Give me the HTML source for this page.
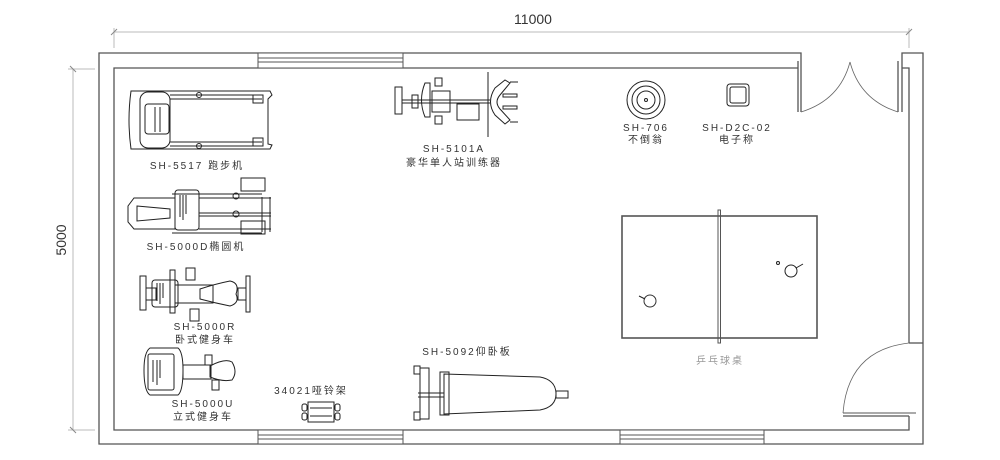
<!DOCTYPE html>
<html><head><meta charset="utf-8"><style>
html,body{margin:0;padding:0;background:#fff;width:1000px;height:460px;overflow:hidden}
svg{display:block}
text{font-family:"Liberation Sans","Noto Sans CJK SC",sans-serif;fill:#333}
.l{font-size:10px;letter-spacing:2px}
</style></head><body>
<svg width="1000" height="460" viewBox="0 0 1000 460" xmlns="http://www.w3.org/2000/svg">
<g fill="none" stroke="#bbb" stroke-width="1">
 <line x1="114" y1="32" x2="909" y2="32"/>
 <line x1="114" y1="28" x2="114" y2="48"/>
 <line x1="909" y1="28" x2="909" y2="48"/>
 <line x1="111" y1="35" x2="117" y2="29" stroke="#888"/>
 <line x1="906" y1="35" x2="912" y2="29" stroke="#888"/>
 <line x1="73" y1="69" x2="73" y2="430"/>
 <line x1="68" y1="69" x2="95" y2="69"/>
 <line x1="68" y1="430" x2="95" y2="430"/>
 <line x1="70" y1="66" x2="76" y2="72" stroke="#888"/>
 <line x1="70" y1="427" x2="76" y2="433" stroke="#888"/>
</g>
<text x="533" y="24" font-size="14" text-anchor="middle" style="fill:#333">11000</text>
<text x="66" y="240" font-size="14" text-anchor="middle" transform="rotate(-90 66 240)">5000</text>

<g fill="none" stroke="#555" stroke-width="1.3">
 <!-- outer walls -->
 <polyline points="801,61 801,53 99,53 99,444 923,444 923,53 902,53 902,61"/>
 <!-- inner walls -->
 <polyline points="798,68 114,68 114,430 909,430 909,416"/>
 <polyline points="909,343 909,68 902,68"/>
 <line x1="798" y1="61" x2="798" y2="112"/>
 <line x1="801" y1="61" x2="801" y2="112"/>
 <line x1="898" y1="61" x2="898" y2="112"/>
 <line x1="902" y1="61" x2="902" y2="112"/>
 <line x1="909" y1="343" x2="923" y2="343"/>
 <line x1="843" y1="416" x2="909" y2="416"/>
 <line x1="843" y1="413" x2="916" y2="413" stroke-width="1"/>
</g>
<!-- windows -->
<g fill="#fff" stroke="#555" stroke-width="1">
 <rect x="258" y="53" width="145" height="15"/>
 <line x1="258" y1="58" x2="403" y2="58"/><line x1="258" y1="62" x2="403" y2="62"/>
 <rect x="258" y="430" width="145" height="14"/>
 <line x1="258" y1="435" x2="403" y2="435"/><line x1="258" y1="439" x2="403" y2="439"/>
 <rect x="620" y="430" width="144" height="14"/>
 <line x1="620" y1="435" x2="764" y2="435"/><line x1="620" y1="439" x2="764" y2="439"/>
</g>
<!-- doors -->
<g fill="none" stroke="#666" stroke-width="0.8">
 <path d="M801,112 Q840,100 850,62"/>
 <path d="M898,112 Q860,100 850,62"/>
 <path d="M843,413 Q848,350 909,343"/>
</g>

<g fill="none" stroke="#222" stroke-width="1">
 <!-- treadmill -->
 <path d="M131,91 L270,91 L272,95 L268,99 L268,144 L272,145 L270,149 L131,149 Q127,120 131,91 Z"/>
 <rect x="140" y="92" width="30" height="56" rx="8"/>
 <rect x="145" y="104" width="24" height="30" rx="3"/>
 <line x1="170" y1="99" x2="262" y2="99"/><line x1="170" y1="142" x2="262" y2="142"/>
 <line x1="170" y1="95" x2="262" y2="95"/><line x1="170" y1="146" x2="262" y2="146"/>
 <rect x="253" y="95" width="10" height="8"/><rect x="253" y="138" width="10" height="8"/>
 <circle cx="199" cy="95" r="2.5"/><circle cx="199" cy="146" r="2.5"/>
 <line x1="155" y1="107" x2="155" y2="132"/><line x1="160" y1="107" x2="160" y2="132"/>
 <!-- elliptical -->
 <path d="M175,198 L134,198 L128,206 L128,222 L134,229 L175,229 Z"/>
 <path d="M137,206 L170,209 L170,218 L137,221 Z"/>
 <rect x="175" y="190" width="24" height="40" rx="3"/>
 <line x1="180" y1="195" x2="180" y2="217"/><line x1="183" y1="195" x2="183" y2="220"/><line x1="186" y1="195" x2="186" y2="214"/>
 <line x1="199" y1="198" x2="271" y2="198"/><line x1="199" y1="229" x2="271" y2="229"/>
 <line x1="199" y1="213" x2="271" y2="213"/><line x1="199" y1="216" x2="271" y2="216"/>
 <line x1="172" y1="194" x2="262" y2="194"/><line x1="172" y1="233" x2="262" y2="233"/>
 <rect x="241" y="178" width="24" height="13"/><rect x="241" y="221" width="24" height="13"/>
 <circle cx="236" cy="196" r="3"/><circle cx="236" cy="214" r="3"/>
 <line x1="262" y1="197" x2="262" y2="232"/><line x1="270" y1="197" x2="270" y2="232"/>
 <!-- recumbent -->
 <rect x="140" y="276" width="6" height="34"/><rect x="146" y="288" width="10" height="12"/>
 <rect x="152" y="280" width="26" height="27" rx="3"/>
 <line x1="157" y1="283" x2="157" y2="301"/><line x1="160" y1="283" x2="160" y2="304"/><line x1="163" y1="283" x2="163" y2="298"/>
 <rect x="170" y="270" width="5" height="43"/>
 <rect x="175" y="285" width="38" height="18"/>
 <rect x="186" y="268" width="9" height="12"/><rect x="190" y="309" width="9" height="12"/>
 <path d="M200,289 Q215,284 230,281 Q240,283 236,294 Q240,303 230,306 Q215,303 200,299 Z"/>
 <rect x="238" y="288" width="8" height="12"/><rect x="246" y="276" width="4" height="36"/>
 <!-- upright -->
 <path d="M150,348 L178,348 Q183,352 183,370 Q183,391 178,395 L150,395 Q144,391 144,370 Q144,352 150,348 Z"/>
 <rect x="148" y="354" width="26" height="36" rx="2"/>
 <line x1="153" y1="360" x2="153" y2="382"/><line x1="157" y1="360" x2="157" y2="385"/><line x1="160" y1="360" x2="160" y2="378"/>
 <rect x="183" y="365" width="28" height="14"/>
 <rect x="205" y="355" width="7" height="10"/><rect x="212" y="380" width="7" height="10"/>
 <path d="M210,366 Q225,358 232,362 Q238,372 232,380 Q222,382 210,377 Z"/>
 <!-- dumbbell rack -->
 <rect x="308" y="402" width="26" height="20"/>
 <line x1="310" y1="408" x2="332" y2="408"/><line x1="310" y1="416" x2="332" y2="416"/>
 <rect x="302" y="404" width="5" height="7" rx="2"/><rect x="302" y="413" width="5" height="7" rx="2"/>
 <rect x="335" y="404" width="5" height="7" rx="2"/><rect x="335" y="413" width="5" height="7" rx="2"/>
 <!-- bench -->
 <path d="M444,374 L540,377 Q556,380 556,394 Q556,407 540,410 L444,414 Z"/>
 <rect x="440" y="372" width="9" height="43"/>
 <rect x="420" y="368" width="9" height="51"/>
 <rect x="414" y="366" width="6" height="8"/><rect x="414" y="412" width="6" height="8"/>
 <line x1="418" y1="393" x2="444" y2="393"/><line x1="418" y1="397" x2="444" y2="397"/>
 <rect x="556" y="391" width="12" height="7"/>
 <!-- station trainer -->
 <rect x="395" y="87" width="7" height="27"/>
 <line x1="402" y1="100" x2="490" y2="100"/><line x1="402" y1="103" x2="490" y2="103"/>
 <path d="M412,95 L418,95 L418,108 L412,108 Z"/>
 <path d="M425,83 Q418,100 425,117 L430,117 L430,83 Z"/>
 <path d="M432,91 L450,91 L450,112 L432,112 Z"/>
 <rect x="435" y="78" width="7" height="8"/><rect x="435" y="116" width="7" height="8"/>
 <rect x="457" y="104" width="22" height="16"/>
 <line x1="488" y1="72" x2="488" y2="137"/>
 <path d="M495,88 L505,80 L510,83 L500,95 Q494,102 500,109 L510,120 L505,124 L495,115 Q486,102 495,88 Z"/>
 <rect x="503" y="94" width="14" height="3"/><rect x="503" y="106" width="14" height="3"/>
 <line x1="510" y1="82" x2="518" y2="82"/><line x1="510" y1="122" x2="518" y2="122"/>
 <!-- tumbler -->
 <circle cx="646" cy="100" r="19"/><circle cx="646" cy="100" r="14"/><circle cx="646" cy="100" r="9"/><circle cx="646" cy="100" r="1.5"/>
 <!-- scale -->
 <rect x="727" y="84" width="22" height="22" rx="3"/><rect x="730" y="87" width="16" height="16" rx="2"/>
 <!-- table -->
 <rect x="622" y="216" width="195" height="122" stroke="#555" stroke-width="1.6"/>
 <rect x="718" y="210" width="2.5" height="133" stroke="#555"/>
 <circle cx="650" cy="301" r="6" stroke="#333"/><line x1="639" y1="296" x2="645" y2="299"/>
 <circle cx="791" cy="271" r="6"/><line x1="796" y1="268" x2="803" y2="264"/>
 <circle cx="778" cy="263" r="1.5"/>
</g>

<g class="l" text-anchor="middle">
 <text x="197" y="169">SH-5517 跑步机</text>
 <text x="196" y="250">SH-5000D椭圆机</text>
 <text x="205" y="330">SH-5000R</text>
 <text x="205" y="343">卧式健身车</text>
 <text x="203" y="407">SH-5000U</text>
 <text x="203" y="420">立式健身车</text>
 <text x="311" y="394">34021哑铃架</text>
 <text x="467" y="355">SH-5092仰卧板</text>
 <text x="454" y="152">SH-5101A</text>
 <text x="454" y="166">豪华单人站训练器</text>
 <text x="646" y="131">SH-706</text>
 <text x="646" y="143">不倒翁</text>
 <text x="737" y="131">SH-D2C-02</text>
 <text x="737" y="143">电子称</text>
 <text x="720" y="364" style="fill:#999">乒乓球桌</text>
</g>
</svg>
</body></html>
